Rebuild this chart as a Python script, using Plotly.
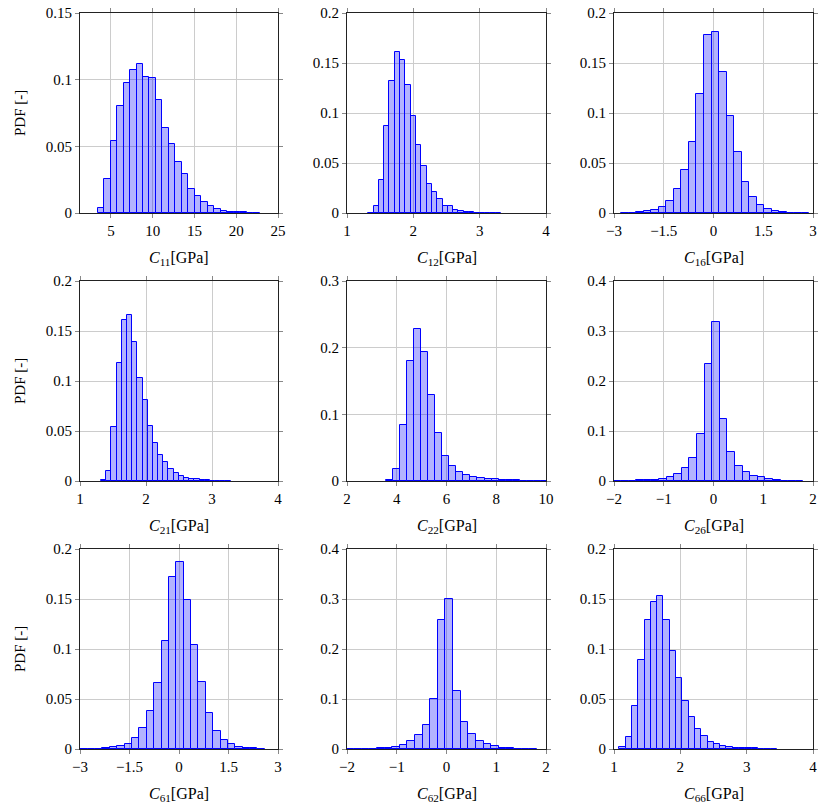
import plotly.graph_objects as go

# ---------------- data (bin start, bin width, PDF heights) ----------------
c11_start, c11_width = 3.41, 0.776
c11_pdf = [0.004, 0.0258, 0.054, 0.080, 0.0975, 0.107, 0.112, 0.102, 0.101, 0.085,
           0.0635, 0.0515, 0.038, 0.029, 0.018, 0.0128, 0.0085, 0.005, 0.0028, 0.0018,
           0.001, 0.0008, 0.0005, 0.0003, 0.0002]

c12_start, c12_width = 1.32, 0.080
c12_pdf = [0.0003, 0.0067, 0.033, 0.087, 0.132, 0.161, 0.153, 0.128, 0.097, 0.068,
           0.047, 0.029, 0.0207, 0.0143, 0.0073, 0.0067, 0.0027, 0.0017, 0.001, 0.0007,
           0.0005, 0.0003, 0.0002, 0.0001, 0.0001]

c16_start, c16_width = -2.784, 0.227
c16_pdf = [0.0001, 0.0002, 0.0007, 0.0017, 0.0033, 0.0057, 0.012, 0.0237, 0.0433, 0.071,
           0.119, 0.178, 0.181, 0.141, 0.097, 0.0607, 0.0313, 0.016, 0.0077, 0.004,
           0.002, 0.001, 0.0005, 0.0002, 0.0001]

c21_start, c21_width = 1.32, 0.0785
c21_pdf = [0.0007, 0.0103, 0.054, 0.118, 0.161, 0.166, 0.139, 0.103, 0.0807, 0.0547,
           0.0377, 0.0257, 0.0187, 0.0117, 0.0077, 0.0053, 0.0033, 0.0017, 0.0017, 0.001,
           0.0007, 0.0005, 0.0003, 0.0002, 0.0001]

c22_start, c22_width = 3.58, 0.282
c22_pdf = [0.001, 0.0185, 0.0835, 0.18, 0.2285, 0.193, 0.1285, 0.0715, 0.038, 0.022,
           0.014, 0.0095, 0.0065, 0.0045, 0.003, 0.0025, 0.002, 0.0012, 0.001, 0.0007,
           0.0005, 0.0004, 0.0003, 0.0002, 0.0001]

c26_start, c26_width = -2.01, 0.1527
c26_pdf = [0.0003, 0.0005, 0.0008, 0.0013, 0.002, 0.0027, 0.0047, 0.0073, 0.0147, 0.026,
           0.0453, 0.0933, 0.235, 0.319, 0.125, 0.0587, 0.03, 0.0173, 0.0107, 0.0073,
           0.0033, 0.002, 0.001, 0.0007, 0.0003]

c61_start, c61_width = -2.99, 0.2236
c61_pdf = [0.0001, 0.0002, 0.0004, 0.0007, 0.0017, 0.003, 0.0047, 0.011, 0.0213, 0.0383,
           0.0657, 0.1077, 0.172, 0.1873, 0.1487, 0.1043, 0.067, 0.0357, 0.0177, 0.0087,
           0.0047, 0.0023, 0.0013, 0.0007, 0.0003]

c62_start, c62_width = -2.01, 0.153
c62_pdf = [0.0002, 0.0004, 0.0006, 0.001, 0.0013, 0.002, 0.004, 0.0073, 0.0153, 0.0273,
           0.048, 0.0993, 0.259, 0.3007, 0.1167, 0.0547, 0.0293, 0.016, 0.01, 0.006,
           0.0027, 0.002, 0.001, 0.0007, 0.0004]

c66_start, c66_width = 1.08, 0.095
c66_pdf = [0.0023, 0.012, 0.0433, 0.0887, 0.1287, 0.1467, 0.1527, 0.1287, 0.098, 0.0713,
           0.0477, 0.0317, 0.0197, 0.0133, 0.0073, 0.0047, 0.003, 0.002, 0.0013, 0.0013,
           0.001, 0.0007, 0.0005, 0.0003, 0.0002]

# axis tick values / labels
x_ticks_c11 = [5, 10, 15, 20, 25]
x_ticks_1to4 = [1, 2, 3, 4]
x_ticks_3 = [-3, -1.5, 0, 1.5, 3]
x_ticks_c22 = [2, 4, 6, 8, 10]
x_ticks_2 = [-2, -1, 0, 1, 2]
y_ticks_015 = [0, 0.05, 0.1, 0.15]
y_ticks_02 = [0, 0.05, 0.1, 0.15, 0.2]
y_ticks_03 = [0, 0.1, 0.2, 0.3]
y_ticks_04 = [0, 0.1, 0.2, 0.3, 0.4]

labels = ["11", "12", "16", "21", "22", "26", "61", "62", "66"]

# ---------------- figure ----------------
W, H = 830, 806
FONT = "'Liberation Serif', 'DejaVu Serif', serif"
col_px = [(80, 278), (347, 546), (614, 813)]
row_px = [(13, 213), (281, 481), (549, 749)]

panels = [
    (c11_start, c11_width, c11_pdf, [1.3, 25], x_ticks_c11, [0, 0.15], y_ticks_015),
    (c12_start, c12_width, c12_pdf, [1, 4], x_ticks_1to4, [0, 0.2], y_ticks_02),
    (c16_start, c16_width, c16_pdf, [-3, 3], x_ticks_3, [0, 0.2], y_ticks_02),
    (c21_start, c21_width, c21_pdf, [1, 4], x_ticks_1to4, [0, 0.2], y_ticks_02),
    (c22_start, c22_width, c22_pdf, [2, 10], x_ticks_c22, [0, 0.3], y_ticks_03),
    (c26_start, c26_width, c26_pdf, [-2, 2], x_ticks_2, [0, 0.4], y_ticks_04),
    (c61_start, c61_width, c61_pdf, [-3, 3], x_ticks_3, [0, 0.2], y_ticks_02),
    (c62_start, c62_width, c62_pdf, [-2, 2], x_ticks_2, [0, 0.4], y_ticks_04),
    (c66_start, c66_width, c66_pdf, [1, 4], x_ticks_1to4, [0, 0.2], y_ticks_02),
]


def fmt(v):
    s = ("%g" % v)
    return s.replace("-", "\u2212")


fig = go.Figure()
layout = dict(
    width=W, height=H, margin=dict(l=0, r=0, t=0, b=0, autoexpand=False),
    paper_bgcolor="white", plot_bgcolor="white", showlegend=False,
    font=dict(family=FONT, size=14, color="black"),
    bargap=0,
)
annotations = []

for i, (start, width, pdf, xr, xt, yr, yt) in enumerate(panels):
    r, c = divmod(i, 3)
    n = i + 1
    xa = "x" if n == 1 else f"x{n}"
    ya = "y" if n == 1 else f"y{n}"
    centers = [start + width * (k + 0.5) for k in range(len(pdf))]
    fig.add_trace(go.Bar(
        x=centers, y=pdf, width=width, xaxis=xa, yaxis=ya,
        marker=dict(color="rgba(0,0,255,0.3)", line=dict(color="blue", width=1)),
        hoverinfo="x+y",
    ))
    x0, x1 = col_px[c]
    y0, y1 = row_px[r]
    common = dict(
        showline=True, linecolor="#222", linewidth=1, mirror="ticks",
        showgrid=True, gridcolor="#cccccc", gridwidth=1,
        ticks="outside", ticklen=4, tickcolor="#888", tickwidth=1,
        zeroline=False, tickfont=dict(family=FONT, size=15, color="black"),
        fixedrange=True, automargin=False,
    )
    layout["xaxis" if n == 1 else f"xaxis{n}"] = dict(
        common, domain=[x0 / W, x1 / W], range=xr, anchor=ya,
        tickmode="array", tickvals=xt, ticktext=[fmt(v) for v in xt],
    )
    layout["yaxis" if n == 1 else f"yaxis{n}"] = dict(
        common, domain=[1 - y1 / H, 1 - y0 / H], range=yr, anchor=xa,
        tickmode="array", tickvals=yt, ticktext=[fmt(v) for v in yt],
    )
    annotations.append(dict(
        xref="paper", yref="paper", x=(x0 + x1) / 2 / W, y=1 - (y1 + 45) / H,
        text=f"<i>C</i><sub>{labels[i]}</sub>[GPa]", showarrow=False,
        xanchor="center", yanchor="middle", font=dict(family=FONT, size=16),
    ))
    if c == 0:
        annotations.append(dict(
            xref="paper", yref="paper", x=20 / W, y=1 - (y0 + y1) / 2 / H,
            text="PDF [-]", textangle=-90, showarrow=False,
            xanchor="center", yanchor="middle", font=dict(family=FONT, size=15),
        ))

layout["annotations"] = annotations
fig.update_layout(**layout)
fig.write_html(
    "out.html",
    config={"displayModeBar": False},
    post_script="document.body.style.margin='0px';document.body.style.overflow='hidden';",
)
